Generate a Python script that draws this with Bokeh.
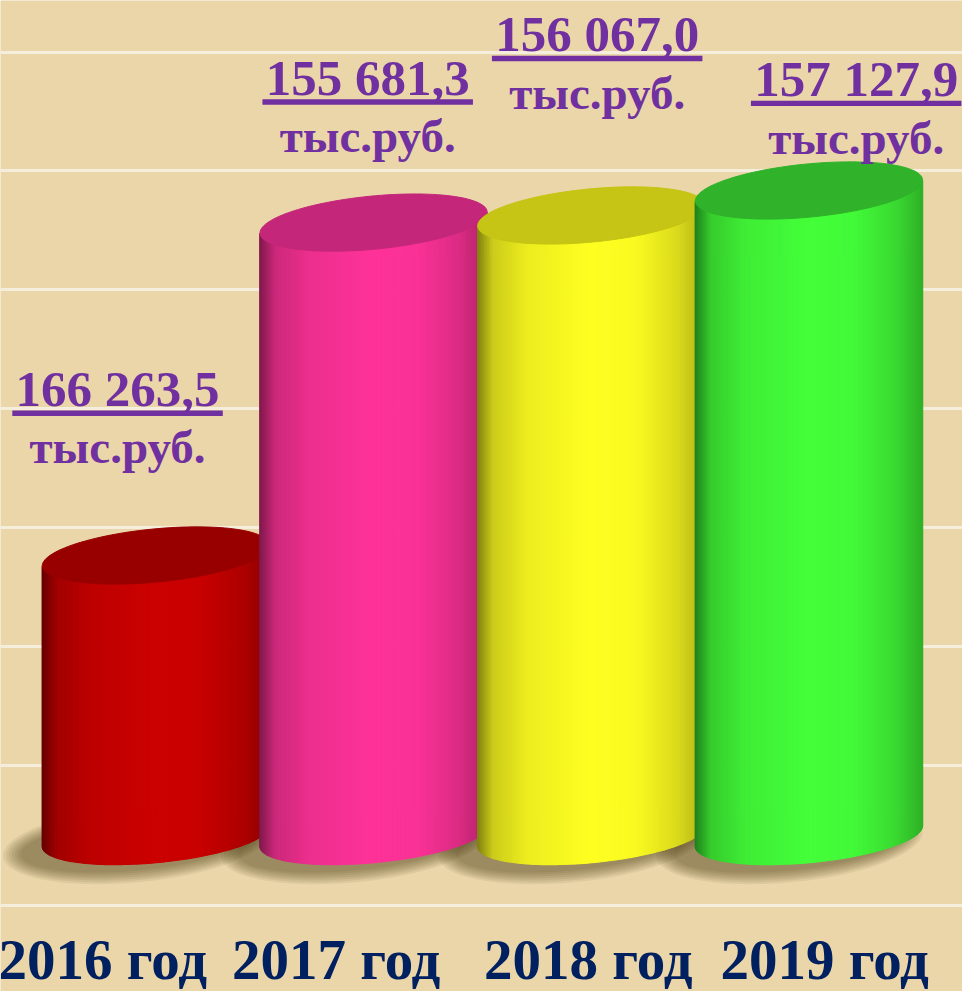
import math
import numpy as np
from bokeh.plotting import figure
from bokeh.models import Range1d, Grid, FixedTicker
from bokeh.embed import file_html
from bokeh.resources import INLINE
from bokeh.core.properties import value

# ---------------- data ----------------
years = ["2016 год", "2017 год", "2018 год", "2019 год"]
amounts = [166263.5, 155681.3, 156067.0, 157127.9]
unit_label = "тыс.руб."
# visual cylinder heights as drawn in the picture (the original is not to scale)
bar_heights = [2.36, 5.16, 5.22, 5.43]
grid_levels = [1, 2, 3, 4, 5, 6, 7]

# ---------------- style ----------------
body_colors = ["#CC0000", "#FF3399", "#FFFF22", "#44FF3A"]
top_colors = ["#980000", "#C4267A", "#C6C414", "#30B22A"]
BG = "#EAD6A9"
GRID = "#F6EEDD"
PURPLE = "#7030A0"
NAVY = "#002060"
FONT = value("Liberation Serif")

W, H = 962, 991
REF_W, REF_H = 978, 1007
K = (W / REF_W + H / REF_H) / 2
# reference-pixel scale of one data unit
RX, RY = 221.3, 120.8
X0, X1 = -158 / RX, (REF_W - 158) / RX
Y0, Y1 = (898 - REF_H) / RY, 898 / RY

BASE = 0.4056          # level of base-ellipse centre
FLOOR_PX = 71          # floor line below base centre
A, B, TH = 116.0, 27.0, math.radians(5.5)

VAL_DX = [-39, -6, 6, 48]
VAL_DY = [151.5, 129.5, 166.5, 95.5]
UNIT_GAP = 58
UL_GAP = 7
UL_W = 214
YEAR_DX = [-54, -38, -3, 16]
YEAR_DROP = 145
MID = 0.3375
FS_VAL, FS_UNIT, FS_YEAR = 52, 48, 58


def fmt(v):
    return f"{v:,.1f}".replace(",", " ").replace(".", ",")


def ell(cx, cy, t, a=A, b=B):
    ex = a * np.cos(t) * math.cos(TH) - b * np.sin(t) * math.sin(TH)
    ey = a * np.cos(t) * math.sin(TH) + b * np.sin(t) * math.cos(TH)
    return cx + ex / RX, cy + ey / RY


PU = [0, 0.07, 0.22, 0.5, 0.7, 0.88, 1.0]
PF = [0.5, 0.8, 0.93, 1.0, 0.98, 0.86, 0.7]


def shade(hexc, f):
    r, g, b = (int(hexc[i:i + 2], 16) for i in (1, 3, 5))
    return "#%02x%02x%02x" % (min(255, int(r * f)), min(255, int(g * f)), min(255, int(b * f)))


def px(s):
    return "%dpx" % round(s * K)


p = figure(width=W, height=H, output_backend="svg", toolbar_location=None,
           x_range=Range1d(X0, X1), y_range=Range1d(Y0, Y1),
           x_axis_location=None, y_axis_location=None, min_border=0)
p.outline_line_color = None
p.background_fill_color = BG
p.border_fill_color = BG
p.grid.visible = False

floor_y = BASE - FLOOR_PX / RY
g = Grid(dimension=1, ticker=FixedTicker(ticks=grid_levels + [floor_y]),
         grid_line_color=GRID, grid_line_width=3)
p.add_layout(g)

n = len(years)
xs_c = list(range(n))

# soft shadows
sxs, sys_ = [], []
for i in range(n):
    for k in range(7):
        t = np.linspace(0, 2 * math.pi, 80)
        ex, ey = ell(xs_c[i] - 20 / RX, BASE - 8 / RY, t, A + 2 + 3 * k, B + 2 * k)
        sxs.append(list(ex)); sys_.append(list(ey))
p.patches(sxs, sys_, fill_color="#3a2c05", fill_alpha=0.075, line_color=None)

t0 = math.atan2(-B * math.sin(TH), A * math.cos(TH))
N = 90
for i in range(n):
    cx = xs_c[i]
    top = BASE + bar_heights[i]
    ts = np.linspace(t0 - math.pi, t0, N + 1)
    bx, by = ell(cx, BASE, ts)
    xl, xr = bx[0], bx[-1]
    pxs, pys, cols = [], [], []
    for k in range(N):
        pxs.append([bx[k], bx[k + 1], bx[k + 1], bx[k]])
        pys.append([by[k], by[k + 1], by[k + 1] + bar_heights[i], by[k] + bar_heights[i]])
        u = ((bx[k] + bx[k + 1]) / 2 - xl) / (xr - xl)
        cols.append(shade(body_colors[i], float(np.interp(u, PU, PF))))
    p.patches(pxs, pys, fill_color=cols, line_color=cols, line_width=1.2)
    tt = np.linspace(0, 2 * math.pi, 120)
    ex, ey = ell(cx, top, tt)
    p.patch(list(ex), list(ey), fill_color=top_colors[i], line_color=top_colors[i], line_width=1)

# value labels (baseline positions, text drawn with middle anchor)
vx = [xs_c[i] + VAL_DX[i] / RX for i in range(n)]
vb = [BASE + bar_heights[i] + VAL_DY[i] / RY for i in range(n)]
p.text(x=vx, y=[y + MID * FS_VAL / RY for y in vb], text=[fmt(v) for v in amounts],
       text_font=FONT, text_font_style="bold", text_font_size=px(FS_VAL),
       text_color=PURPLE, text_align="center", text_baseline="middle")
p.rect(x=vx, y=[y - UL_GAP / RY for y in vb], width=UL_W / RX, height=5.5 / RY,
       fill_color=PURPLE, line_color=None)
p.text(x=vx, y=[y - UNIT_GAP / RY + MID * FS_UNIT / RY for y in vb], text=[unit_label] * n,
       text_font=FONT, text_font_style="bold", text_font_size=px(FS_UNIT),
       text_color=PURPLE, text_align="center", text_baseline="middle")

# year labels
yx = [xs_c[i] + YEAR_DX[i] / RX for i in range(n)]
yb = BASE - YEAR_DROP / RY
p.text(x=yx, y=[yb + MID * FS_YEAR / RY] * n, text=years, text_font=FONT,
       text_font_style="bold", text_font_size=px(FS_YEAR), text_color=NAVY,
       text_align="center", text_baseline="middle")

open("out.html", "w").write(file_html(p, INLINE))
